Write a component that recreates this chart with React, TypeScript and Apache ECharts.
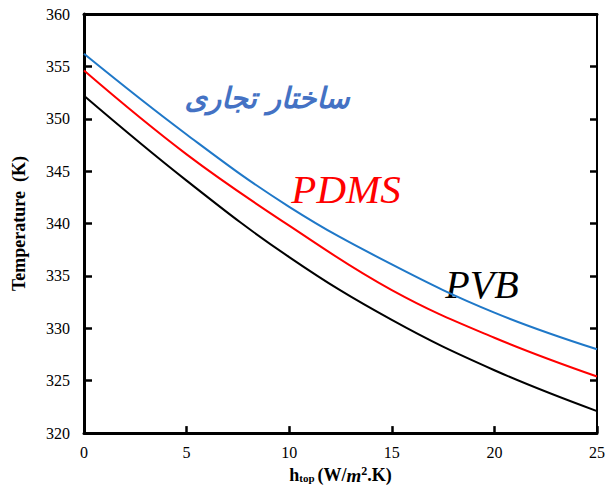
import React, { useEffect, useRef } from "react";
import * as echarts from "echarts";

const xValues = [0, 5, 10, 15, 20, 25];
const commercial = [356.2, 348.5, 341.6, 336.1, 331.5, 328.0];
const pdms = [354.6, 346.6, 339.8, 333.65, 329.1, 325.4];
const pvb = [352.2, 344.1, 336.8, 330.8, 326.0, 322.1];

const Y_MIN = 320;
const Y_MAX = 360;
const Y_STEP = 5;
const X_MIN = 0;
const X_MAX = 25;
const X_STEP = 5;

const SERIF = "Liberation Serif";

function pairs(xs: number[], ys: number[]) {
  return xs.map((x, i) => [x, ys[i]]);
}

export default function App() {
  const ref = useRef<HTMLDivElement>(null);

  useEffect(() => {
    document.body.style.margin = "0";
    if (!ref.current) return;
    const chart = echarts.init(ref.current, undefined, { renderer: "svg" });
    const bold = { fontFamily: SERIF, fontWeight: "bold" as const, color: "#000" };
    chart.setOption({
      animation: false,
      backgroundColor: "#fff",
      textStyle: { fontFamily: SERIF },
      grid: { left: 84, right: 2, top: 14, bottom: 52, containLabel: false },
      xAxis: [
        {
          type: "value",
          min: X_MIN,
          max: X_MAX,
          interval: X_STEP,
          position: "bottom",
          splitLine: { show: false },
          axisLine: { show: true, onZero: false, lineStyle: { color: "#000", width: 3 } },
          axisTick: { show: true, inside: true, length: 7, lineStyle: { color: "#000", width: 2.5 } },
          axisLabel: { fontFamily: SERIF, fontSize: 16, color: "#000", margin: 11 },
          name: "{h|h}{sub|top} {b|(W/}{it|m}{sup|2}{b|.K)}",
          nameLocation: "middle",
          nameGap: 25,
          nameTextStyle: {
            rich: {
              h: { ...bold, fontSize: 18, lineHeight: 20 },
              sub: { ...bold, fontSize: 11, lineHeight: 20, verticalAlign: "bottom", padding: [0, 0, 2, 0] },
              b: { ...bold, fontSize: 18, lineHeight: 20 },
              it: { ...bold, fontStyle: "italic", fontSize: 19, lineHeight: 20 },
              sup: { ...bold, fontSize: 12, lineHeight: 20, verticalAlign: "top" },
            },
          },
        },
        {
          type: "value",
          min: X_MIN,
          max: X_MAX,
          position: "top",
          splitLine: { show: false },
          axisLine: { show: true, onZero: false, lineStyle: { color: "#000", width: 3 } },
          axisTick: { show: false },
          axisLabel: { show: false },
        },
      ],
      yAxis: [
        {
          type: "value",
          min: Y_MIN,
          max: Y_MAX,
          interval: Y_STEP,
          position: "left",
          splitLine: { show: false },
          axisLine: { show: true, onZero: false, lineStyle: { color: "#000", width: 3 } },
          axisTick: { show: true, inside: true, length: 8, lineStyle: { color: "#000", width: 2.5 } },
          axisLabel: { fontFamily: SERIF, fontSize: 16, color: "#000", margin: 14 },
          name: "Temperature  (K)",
          nameLocation: "middle",
          nameGap: 56,
          nameTextStyle: { ...bold, fontSize: 18 },
        },
        {
          type: "value",
          min: Y_MIN,
          max: Y_MAX,
          interval: Y_STEP,
          position: "right",
          splitLine: { show: false },
          axisLine: { show: true, onZero: false, lineStyle: { color: "#000", width: 2 } },
          axisTick: { show: true, inside: true, length: 7, lineStyle: { color: "#000", width: 2.5 } },
          axisLabel: { show: false },
        },
      ],
      series: [
        {
          name: "ساختار تجاری",
          type: "line",
          data: pairs(xValues, commercial),
          smooth: 0.4,
          symbol: "none",
          lineStyle: { color: "#1F78C8", width: 2 },
        },
        {
          name: "PDMS",
          type: "line",
          data: pairs(xValues, pdms),
          smooth: 0.4,
          symbol: "none",
          lineStyle: { color: "#FF0000", width: 2 },
        },
        {
          name: "PVB",
          type: "line",
          data: pairs(xValues, pvb),
          smooth: 0.4,
          symbol: "none",
          lineStyle: { color: "#000000", width: 2 },
        },
      ],
      graphic: [
        {
          type: "text",
          x: 267,
          y: 98,
          style: {
            text: "ساختار تجاری",
            fill: "#4472C4",
            fontFamily: "DejaVu Sans",
            fontWeight: "bold",
            fontStyle: "italic",
            fontSize: 29,
            align: "center",
            verticalAlign: "middle",
          },
        },
        {
          type: "text",
          x: 346,
          y: 189,
          style: {
            text: "PDMS",
            fill: "#FF0000",
            fontFamily: SERIF,
            fontStyle: "italic",
            fontSize: 41,
            align: "center",
            verticalAlign: "middle",
          },
        },
        {
          type: "text",
          x: 482,
          y: 284,
          style: {
            text: "PVB",
            fill: "#000",
            fontFamily: SERIF,
            fontStyle: "italic",
            fontSize: 40,
            align: "center",
            verticalAlign: "middle",
          },
        },
      ],
    });
    return () => chart.dispose();
  }, []);

  return <div ref={ref} style={{ width: 608, height: 490 }} />;
}
